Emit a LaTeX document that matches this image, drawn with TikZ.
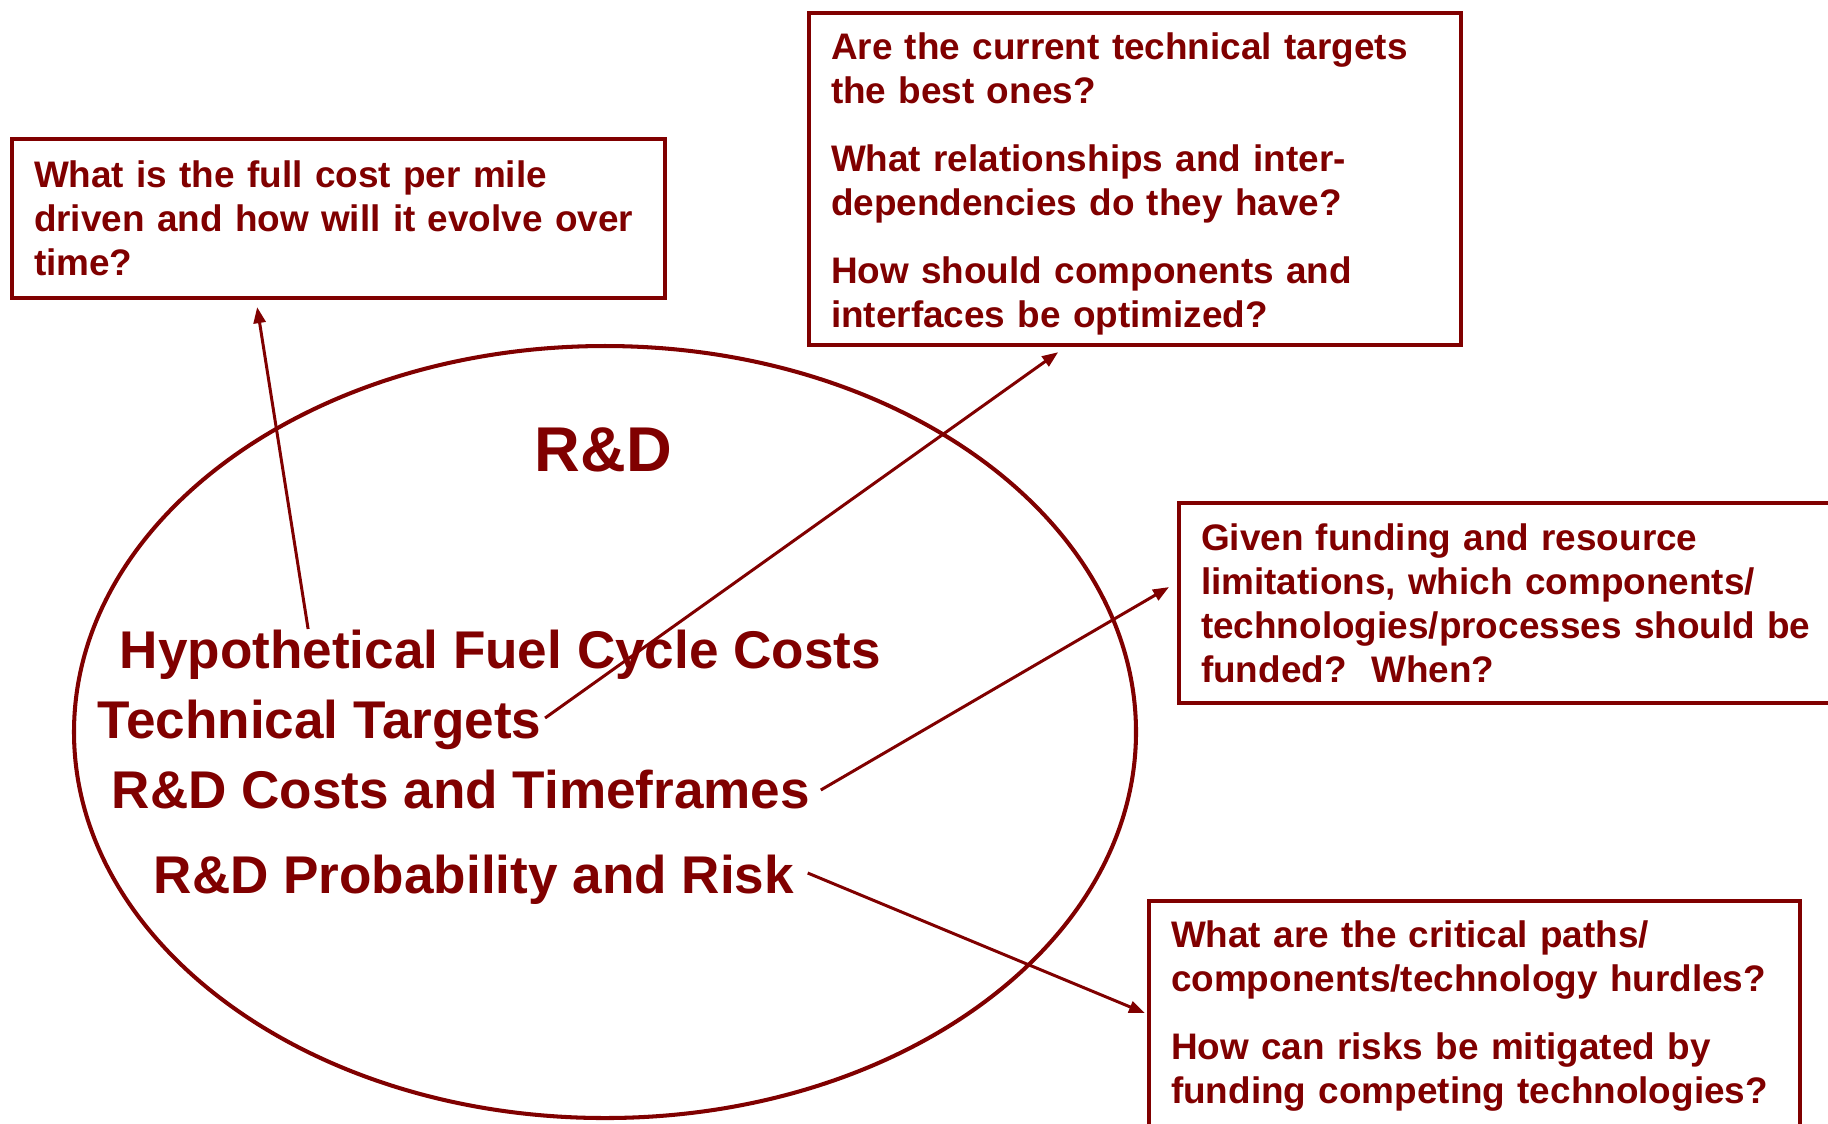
\documentclass[tikz,border=0pt]{standalone}
\usepackage{fontspec}
\setmainfont{Liberation Sans}
\usepackage{tikz}
\definecolor{rdred}{RGB}{128,0,0}
\usetikzlibrary{arrows.meta, positioning}
\tikzset{>={Triangle[length=0.16cm,width=0.12cm]}}
\tikzset{
  qbox/.style={draw=rdred, line width=1.1pt, text=rdred, anchor=north west, outer sep=0pt,
    inner xsep=0.22cm, inner ysep=0pt, align=left, font=\bfseries\frenchspacing\fontsize{10.5}{12.5}\selectfont},
  topic/.style={text=rdred, anchor=base west, inner sep=0pt, font=\bfseries\fontsize{15.1}{18}\selectfont},
  link/.style={->, draw=rdred, line width=0.85pt}
}

\begin{document}
\begin{tikzpicture}[x=0.01cm, y=-0.01cm]
    \useasboundingbox (0,0) rectangle (1828,1123);

    % The R&D ellipse
    \draw[rdred, line width=1.15pt] (605,732) ellipse [x radius=531, y radius=386];
    \node[topic, font=\bfseries\fontsize{18}{20}\selectfont] (rd) at (534,471) {R\&D};

    % Topics inside the ellipse
    \node[topic] (fuel) at (119,668) {Hypothetical Fuel Cycle Costs};
    \node[topic] (targets) at (97,738) {Technical Targets};
    \node[topic] (costs) at (111,808) {R\&D Costs and Timeframes};
    \node[topic] (risk) at (153,893) {R\&D Probability and Risk};

    % Question boxes
    \node[qbox, text width=6.09cm, minimum height=1.59cm] (q1) at (12,139)
        {What is the full cost per mile\\ driven and how will it evolve over\\ time?};
    \node[qbox, text width=6.08cm, minimum height=3.32cm] (q2) at (809,13)
        {\\[-0.08cm]Are the current technical targets\\ the best ones?\\[0.24cm]
         What relationships and inter-\\ dependencies do they have?\\[0.24cm]
         How should components and\\ interfaces be optimized?};
    \node[qbox, text width=6.27cm, minimum height=2.00cm] (q3) at (1179,503)
        {Given funding and resource\\ limitations, which components/\\ technologies/processes should be\\ funded?~ When?};
    \node[qbox, text width=6.07cm, minimum height=2.29cm] (q4) at (1149,901)
        {What are the critical paths/\\ components/technology hurdles?\\[0.24cm]
         How can risks be mitigated by\\ funding competing technologies?};

    % Links from topics to questions
    \draw[link] ([xshift=1.89cm, yshift=0.39cm]fuel.base west) -- ([xshift=2.45cm, yshift=-0.09cm]q1.south west);
    \draw[link] ([xshift=0.03cm, yshift=0.2cm]targets.base east) -- ([xshift=2.49cm, yshift=-0.07cm]q2.south west);
    \draw[link] ([xshift=0.10cm, yshift=0.18cm]costs.base east) -- ([xshift=-0.10cm, yshift=-0.84cm]q3.north west);
    \draw[link] ([xshift=0.13cm, yshift=0.2cm]risk.base east) -- ([xshift=-0.04cm, yshift=-1.12cm]q4.north west);
\end{tikzpicture}
\end{document}
